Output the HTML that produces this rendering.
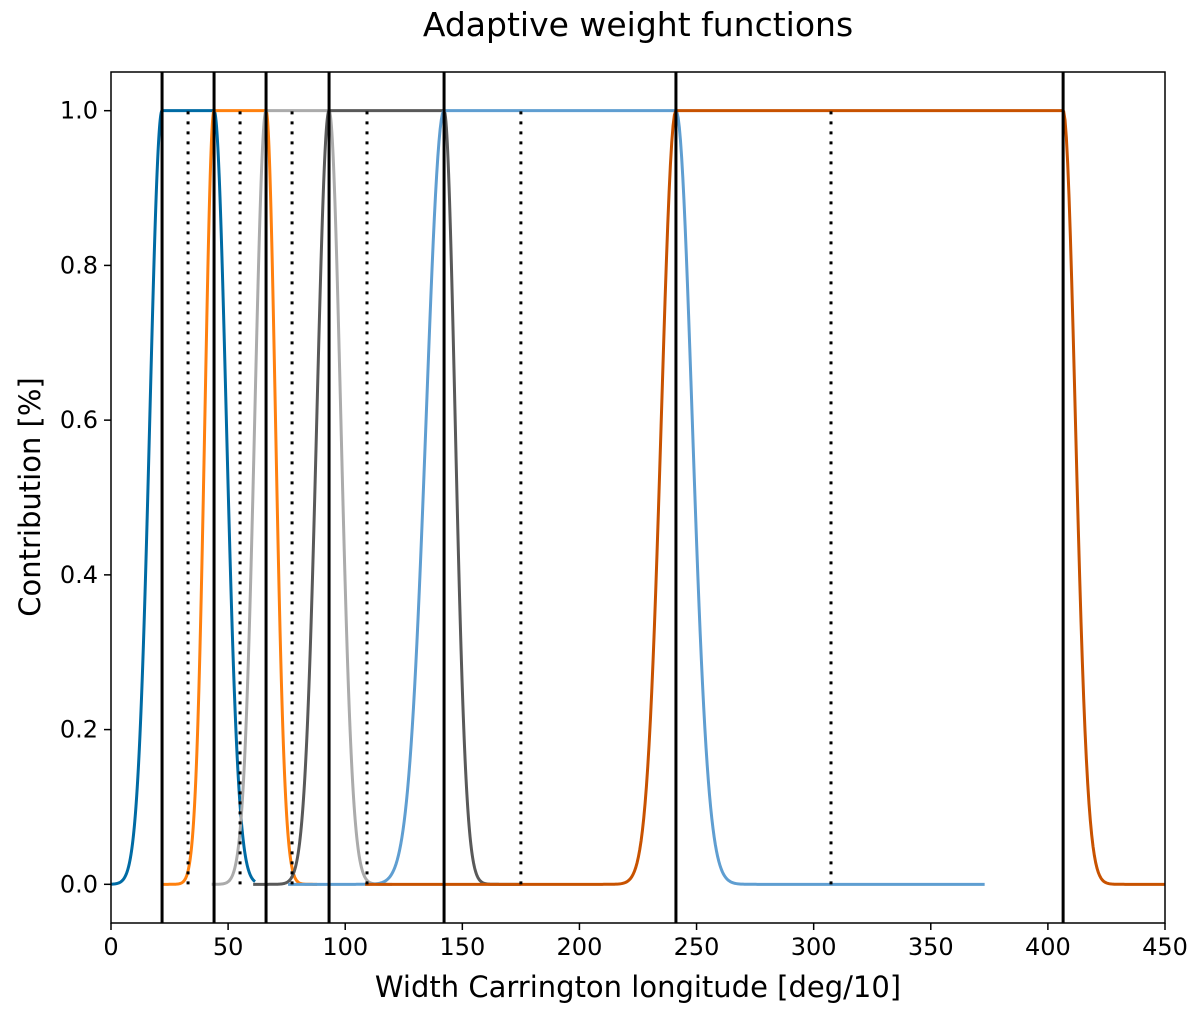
<!DOCTYPE html>
<html><head><meta charset="utf-8"><style>
body{margin:0;background:#fff}
svg text{font-family:"DejaVu Sans","Liberation Sans",sans-serif;fill:#000}
</style></head><body>
<svg id="chart" width="1200" height="1013" viewBox="0 0 1200 1013" xmlns="http://www.w3.org/2000/svg">
<text x="638" y="36" font-size="33" text-anchor="middle">Adaptive weight functions</text>
<g id="plot"></g>
<g id="axes"></g>
<text x="638" y="997" font-size="29" text-anchor="middle">Width Carrington longitude [deg/10]</text>
<text transform="translate(40,497) rotate(-90)" font-size="29" text-anchor="middle">Contribution [%]</text>
</svg>
<script>
const boundaries=[21.8,44,66.2,93.1,142.2,241.2,406.5];
const midpoints=[32.9,55.1,77.3,109.3,175,307.4];
const seriesColors=["#006BA4","#FF800E","#ABABAB","#595959","#5F9ED1","#C85200"];
const seriesStart=[0,22,43,60.7,75.6,108.5];
const seriesEnd=[61.5,88,120,175,373,450];
const riseCenter=[21.8,44,66.2,93.1,142.2,241.2];
const fallCenter=[44,66.2,93.1,142.2,241.2,406.5];
const riseSigma=[5.2,3.9,4.8,5.2,7.6,6.2];
const fallSigma=[5.2,4,5,4.7,6.9,5.2];
const xTicks=[0,50,100,150,200,250,300,350,400,450];
const yTicks=[0,0.2,0.4,0.6,0.8,1.0];
const X0=111,X1=1165,Y0=72,Y1=923,xmin=0,xmax=450,ymin=-0.05,ymax=1.05;
const xs=v=>X0+(v-xmin)/(xmax-xmin)*(X1-X0);
const ys=v=>Y1-(v-ymin)/(ymax-ymin)*(Y1-Y0);
const NS="http://www.w3.org/2000/svg";
const plot=document.getElementById('plot'),axes=document.getElementById('axes');
function mk(t,a,p){const e=document.createElementNS(NS,t);for(const k in a)e.setAttribute(k,a[k]);p.appendChild(e);return e;}
seriesColors.forEach((c,i)=>{
 let d="";
 for(let k=0;k<=600;k++){
  const x=seriesStart[i]+(seriesEnd[i]-seriesStart[i])*k/600;
  let y;
  if(x<riseCenter[i])y=Math.exp(-Math.pow(x-riseCenter[i],2)/(2*riseSigma[i]*riseSigma[i]));
  else if(x<=fallCenter[i])y=1;
  else y=Math.exp(-Math.pow(x-fallCenter[i],2)/(2*fallSigma[i]*fallSigma[i]));
  d+=(k?"L":"M")+xs(x).toFixed(2)+","+ys(y).toFixed(2);
 }
 const p=mk('path',{d:d,fill:'none',stroke:c,'stroke-width':3},plot);
 
 
});
midpoints.forEach((m,i)=>{
 const l=mk('line',{x1:xs(m),x2:xs(m),y1:ys(0),y2:ys(1),stroke:'#000','stroke-width':3,'stroke-dasharray':'3,7'},plot);
 
 
});
boundaries.forEach((b,i)=>{
 const l=mk('line',{x1:xs(b),x2:xs(b),y1:Y0,y2:Y1,stroke:'#000','stroke-width':3},plot);
 
 
});
const fr=mk('rect',{x:X0,y:Y0,width:X1-X0,height:Y1-Y0,fill:'none',stroke:'#000','stroke-width':1.5},axes);


xTicks.forEach(t=>{
 const x=xs(t);
 mk('line',{x1:x,x2:x,y1:Y1,y2:Y1+7,stroke:'#000','stroke-width':1.5},axes);
 const tx=mk('text',{x:x,y:Y1+32,'font-size':24,'text-anchor':'middle'},axes);
 tx.textContent=t;
 
 
});
yTicks.forEach(t=>{
 const y=ys(t);
 mk('line',{x1:X0-7,x2:X0,y1:y,y2:y,stroke:'#000','stroke-width':1.5},axes);
 const tx=mk('text',{x:X0-13,y:y+8,'font-size':24,'text-anchor':'end'},axes);
 tx.textContent=t.toFixed(1);
 
 
});
</script>
</body></html>
